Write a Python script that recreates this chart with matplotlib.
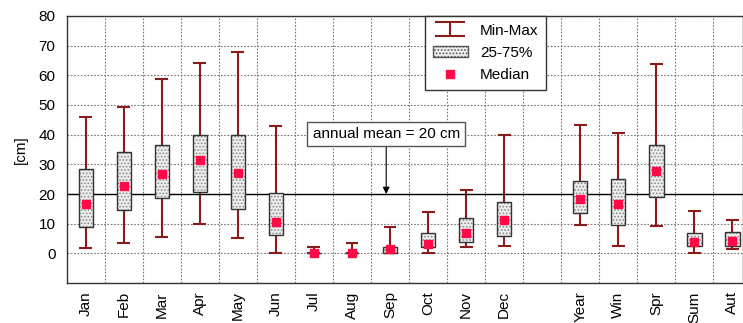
import matplotlib

matplotlib.use('Agg')
import matplotlib.pyplot as plt
import numpy as np
from matplotlib.patches import Patch
from matplotlib.lines import Line2D
from matplotlib.path import Path

plt.rcParams['font.family'] = ['Liberation Sans', 'DejaVu Sans']
plt.rcParams['hatch.linewidth'] = 0.8

# Daten
labels = ["Jan", "Feb", "Mar", "Apr", "May", "Jun", "Jul", "Aug", "Sep", "Oct", "Nov", "Dec",
          "Year", "Win", "Spr", "Sum", "Aut"]
positions = [0, 1, 2, 3, 4, 5, 6, 7, 8, 9, 10, 11, 13, 14, 15, 16, 17]
v_min = [1.9, 3.5, 5.5, 9.8, 5.3, 0.0, 0.0, 0.0, 0.0, 0.0, 2.2, 2.4, 9.5, 2.6, 9.2, 0.0, 1.3]
v_q1 = [8.8, 14.6, 18.5, 20.7, 14.8, 6.3, 0.0, 0.0, 0.0, 2.2, 3.7, 5.7, 13.6, 9.4, 18.9, 2.4, 2.4]
v_med = [16.6, 22.7, 26.6, 31.3, 27.2, 10.4, 0.0, 0.0, 1.3, 3.2, 6.7, 11.1, 18.2, 16.7, 27.7, 3.8, 4.1]
v_q3 = [28.3, 34.0, 36.4, 40.0, 40.0, 20.4, 0.0, 0.0, 2.0, 6.7, 12.0, 17.3, 24.4, 25.2, 36.4, 6.7, 7.1]
v_max = [46.0, 49.3, 58.7, 64.2, 68.0, 42.9, 2.2, 3.6, 9.0, 14.0, 21.3, 40.0, 43.1, 40.6, 63.9, 14.3, 11.3]
annual_mean = 20

whisker_color = '#8b1a1a'
median_color = '#ff0a46'

fig = plt.figure(figsize=(7.43, 3.23), dpi=100)
ax = fig.add_axes([0.0898, 0.1238, 0.9102, 0.8267])

x = np.array(positions)
lo = np.array(v_min)
hi = np.array(v_max)
q1 = np.array(v_q1)
q3 = np.array(v_q3)
med = np.array(v_med)

# Min-Max
ax.vlines(x, lo, hi, color=whisker_color, lw=1.5, zorder=2)
ax.hlines(lo, x - 0.17, x + 0.17, color=whisker_color, lw=1.5, zorder=2)
ax.hlines(hi, x - 0.17, x + 0.17, color=whisker_color, lw=1.5, zorder=2)

# 25-75 %
ax.bar(x, q3 - q1, bottom=q1, width=0.38, color='#eeeeee', edgecolor='#8a8a8a',
       hatch='.....', lw=0, zorder=3)
ax.bar(x, q3 - q1, bottom=q1, width=0.38, color='none', edgecolor='#333333',
       lw=1.0, zorder=3)

# Median
ax.plot(x, med, 's', color=median_color, ms=6, zorder=4, ls='none')

# Jahresmittel
ax.axhline(annual_mean, color='black', lw=1, zorder=2.5)
ax.annotate(f"annual mean = {annual_mean} cm", xy=(7.9, annual_mean), xytext=(7.9, 40.2),
            ha='center', va='center', fontsize=11,
            bbox=dict(boxstyle='square,pad=0.35', fc='white', ec='#555555', lw=1),
            arrowprops=dict(arrowstyle='-|>', color='black', lw=0.8,
                            mutation_scale=10, shrinkA=0, shrinkB=0),
            zorder=5)

ax.set_xlim(-0.5, 17.28)
ax.set_ylim(-10, 80)
ax.set_yticks(np.arange(0, 81, 10))
ax.set_xticks(positions)
ax.set_xticklabels(labels, rotation=90, fontsize=11)
ax.set_xticks(np.arange(0.5, 17, 1), minor=True)
ax.tick_params(axis='x', which='both', length=0, pad=6)
ax.tick_params(axis='y', length=0, labelsize=11, pad=8)
ax.grid(axis='y', which='major', ls=(0, (1.5, 1.5)), color='#777777', lw=0.8)
ax.grid(axis='x', which='minor', ls=(0, (1.5, 1.5)), color='#777777', lw=0.8)
ax.set_axisbelow(True)
ax.set_ylabel("[cm]", fontsize=11, labelpad=8)
for sp in ax.spines.values():
    sp.set_color('#333333')
    sp.set_linewidth(1)

# I-Symbol fuer Min-Max in der Legende
ibeam = Path([(-1, 0.45), (1, 0.45), (0, 0.45), (0, -0.45), (-1, -0.45), (1, -0.45)],
             [Path.MOVETO, Path.LINETO, Path.MOVETO, Path.LINETO, Path.MOVETO, Path.LINETO])
handles = [
    Line2D([], [], color=whisker_color, lw=1.5, marker=ibeam, ms=21, ls='none',
           markeredgewidth=1.5),
    Patch(facecolor='#eeeeee', edgecolor='#555555', hatch='.....', lw=1),
    Line2D([], [], color=median_color, marker='s', ms=6, ls='none'),
]
leg = ax.legend(handles, ["Min-Max", "25-75%", "Median"], loc='upper left',
                bbox_to_anchor=(0.530, 1.0), borderaxespad=0, fontsize=11, frameon=True,
                fancybox=False, edgecolor='#333333', framealpha=1,
                borderpad=0.5, labelspacing=0.55, handlelength=2.3, handletextpad=0.8)
leg.get_frame().set_linewidth(1)

fig.savefig("out.png", dpi=100)
